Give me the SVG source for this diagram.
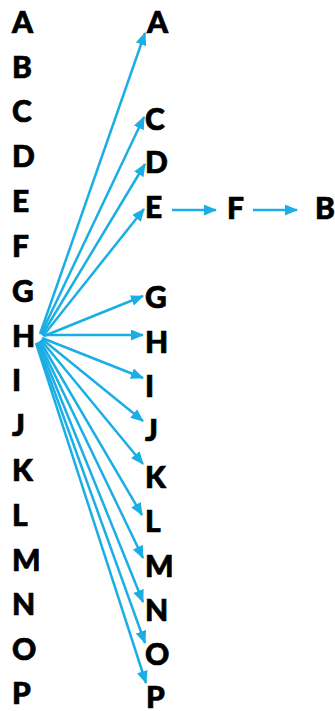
<svg xmlns="http://www.w3.org/2000/svg" width="335" height="711" viewBox="0 0 335 711">
  <style>
    .lbl { font-family: "Lato", "Liberation Sans", sans-serif; font-weight: 900; font-size: 30px; fill: #000; stroke: #000; stroke-width: 0.7; }
    .edge { stroke: #1BAEE5; stroke-width: 2.5; fill: none; marker-end: url(#arrow); }
  </style>
  <defs>
    <marker id="arrow" markerUnits="userSpaceOnUse" markerWidth="14" markerHeight="12" refX="12" refY="5.5" orient="auto">
      <path d="M0,0 L13,5.5 L0,11 z" fill="#1BAEE5"/>
    </marker>
  </defs>

  <!-- source column -->
  <g id="left">
    <g id="src-A"><text class="lbl" x="12" y="33">A</text></g>
    <g id="src-B"><text class="lbl" x="12" y="78">B</text></g>
    <g id="src-C"><text class="lbl" x="12" y="122">C</text></g>
    <g id="src-D"><text class="lbl" x="12" y="167">D</text></g>
    <g id="src-E"><text class="lbl" x="12" y="212">E</text></g>
    <g id="src-F"><text class="lbl" x="12" y="257">F</text></g>
    <g id="src-G"><text class="lbl" x="12" y="302">G</text></g>
    <g id="src-H"><text class="lbl" x="12" y="347">H</text></g>
    <g id="src-I"><text class="lbl" x="12" y="391">I</text></g>
    <g id="src-J"><text class="lbl" x="12" y="436">J</text></g>
    <g id="src-K"><text class="lbl" x="12" y="481">K</text></g>
    <g id="src-L"><text class="lbl" x="12" y="526">L</text></g>
    <g id="src-M"><text class="lbl" x="12" y="571">M</text></g>
    <g id="src-N"><text class="lbl" x="12" y="615">N</text></g>
    <g id="src-O"><text class="lbl" x="12" y="660">O</text></g>
    <g id="src-P"><text class="lbl" x="12" y="704">P</text></g>
  </g>

  <!-- target column -->
  <g id="right">
    <g id="dst-A"><text class="lbl" x="147" y="33">A</text></g>
    <g id="dst-C"><text class="lbl" x="145" y="130">C</text></g>
    <g id="dst-D"><text class="lbl" x="145" y="173">D</text></g>
    <g id="dst-E"><text class="lbl" x="145" y="218">E</text></g>
    <g id="dst-G"><text class="lbl" x="145" y="308">G</text></g>
    <g id="dst-H"><text class="lbl" x="145" y="353">H</text></g>
    <g id="dst-I"><text class="lbl" x="145" y="397">I</text></g>
    <g id="dst-J"><text class="lbl" x="145" y="441">J</text></g>
    <g id="dst-K"><text class="lbl" x="145" y="488">K</text></g>
    <g id="dst-L"><text class="lbl" x="145" y="532">L</text></g>
    <g id="dst-M"><text class="lbl" x="145" y="577">M</text></g>
    <g id="dst-N"><text class="lbl" x="145" y="621">N</text></g>
    <g id="dst-O"><text class="lbl" x="145" y="665">O</text></g>
    <g id="dst-P"><text class="lbl" x="146" y="708">P</text></g>
    <g id="dst-F"><text class="lbl" x="227" y="219">F</text></g>
    <g id="dst-B"><text class="lbl" x="315" y="219">B</text></g>
  </g>

  <!-- connectors -->
  <g id="edges">
    <line class="edge" x1="40" y1="334" x2="145" y2="33"/>
    <line class="edge" x1="41" y1="334" x2="144" y2="117"/>
    <line class="edge" x1="42" y1="335" x2="145" y2="164"/>
    <line class="edge" x1="43" y1="336" x2="144" y2="209"/>
    <line class="edge" x1="44" y1="336" x2="143" y2="296"/>
    <line class="edge" x1="44" y1="335" x2="143" y2="335"/>
    <line class="edge" x1="42" y1="338" x2="143" y2="378"/>
    <line class="edge" x1="42" y1="339" x2="143" y2="421"/>
    <line class="edge" x1="41" y1="340" x2="143" y2="464"/>
    <line class="edge" x1="40" y1="341" x2="142" y2="515"/>
    <line class="edge" x1="39" y1="342" x2="143" y2="558"/>
    <line class="edge" x1="38" y1="342" x2="143" y2="602"/>
    <line class="edge" x1="37" y1="343" x2="145" y2="643"/>
    <line class="edge" x1="36" y1="343" x2="146" y2="683"/>
    <line class="edge" x1="172" y1="210" x2="216" y2="210"/>
    <line class="edge" x1="253" y1="210" x2="297" y2="210"/>
  </g>
</svg>
